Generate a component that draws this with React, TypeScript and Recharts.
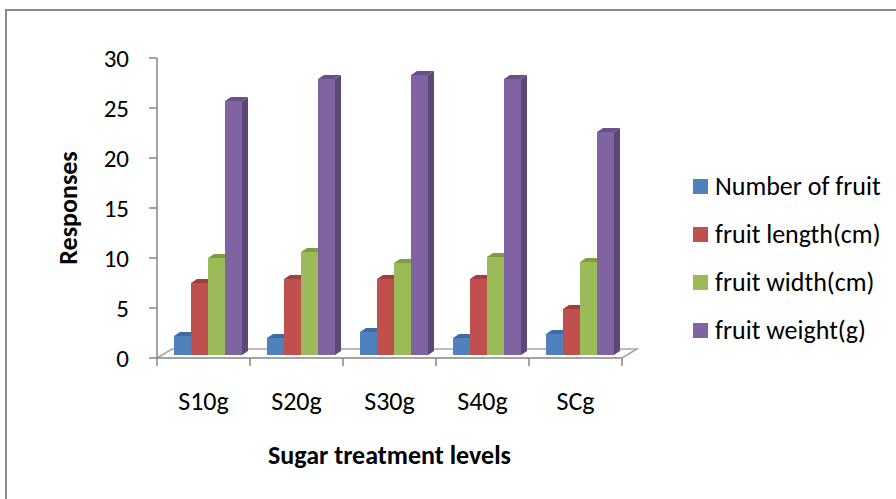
import React from 'react';
import { BarChart, Bar, XAxis, YAxis } from 'recharts';

// values
const categories = ['S10g', 'S20g', 'S30g', 'S40g', 'SCg'];
const numberOfFruit = [1.9, 1.7, 2.3, 1.7, 2.1];
const fruitLength = [7.2, 7.6, 7.6, 7.6, 4.6];
const fruitWidth = [9.7, 10.3, 9.2, 9.8, 9.3];
const fruitWeight = [25.4, 27.6, 28.0, 27.6, 22.3];
const yTicks = [0, 5, 10, 15, 20, 25, 30];

const series = [
    { key: 'number', name: 'Number of fruit', values: numberOfFruit, front: '#4F81BD', side: '#385D8A', top: '#3F6CA3' },
    { key: 'length', name: 'fruit length(cm)', values: fruitLength, front: '#C0504D', side: '#8C3836', top: '#A23E3B' },
    { key: 'width', name: 'fruit width(cm)', values: fruitWidth, front: '#9BBB59', side: '#71893F', top: '#7F9C45' },
    { key: 'weight', name: 'fruit weight(g)', values: fruitWeight, front: '#8064A2', side: '#5C4776', top: '#68518A' },
];

const data = categories.map((category, i) => {
    const row: Record<string, string | number> = { category };
    series.forEach(s => { row[s.key] = s.values[i]; });
    return row;
});

const W = 896;
const H = 499;
const MARGIN = { top: 58, right: 274, bottom: 111, left: 97 };
const Y_AXIS_W = 60;
const X_AXIS_H = 30;
const PLOT_LEFT = MARGIN.left + Y_AXIS_W;
const PLOT_RIGHT = W - MARGIN.right;
const BAND = (PLOT_RIGHT - PLOT_LEFT) / categories.length;

const FONT = 'Carlito, Calibri, Lato, sans-serif';
const AXIS = '#868686';

// fake 3d: bars sit a little back from the front edge of the floor
const DX = 4;
const DY = -3;
const DEPTH_X = 6;
const DEPTH_Y = 4;
const FLOOR_X = 15;
const FLOOR_Y = 9;

const makeShape = (s: typeof series[number], drawFloor: boolean) => (props: any) => {
    const { x, y, width, height, index } = props;
    const fx = x + DX;
    const fy = y + DY;
    const base = y + height;
    return (
        <g>
            {drawFloor && index === 0 && (
                <polyline
                    points={`${PLOT_LEFT},${base} ${PLOT_LEFT + FLOOR_X},${base - FLOOR_Y} ${PLOT_RIGHT + FLOOR_X},${base - FLOOR_Y} ${PLOT_RIGHT},${base}`}
                    fill="none" stroke="#a6a6a6" strokeWidth={1.5}
                />
            )}
            <polygon
                points={`${fx + width},${fy} ${fx + width + DEPTH_X},${fy - DEPTH_Y} ${fx + width + DEPTH_X},${fy + height - DEPTH_Y} ${fx + width},${fy + height}`}
                fill={s.side}
            />
            <polygon
                points={`${fx},${fy} ${fx + DEPTH_X},${fy - DEPTH_Y} ${fx + width + DEPTH_X},${fy - DEPTH_Y} ${fx + width},${fy}`}
                fill={s.top}
            />
            <rect x={fx} y={fy} width={width} height={height} fill={s.front} />
        </g>
    );
};

const XTick = (props: any) => {
    const { x, y, payload, index } = props;
    return (
        <g>
            <line x1={x - BAND / 2} y1={y} x2={x - BAND / 2} y2={y + 8} stroke={AXIS} strokeWidth={1.5} />
            {index === categories.length - 1 && (
                <line x1={x + BAND / 2} y1={y} x2={x + BAND / 2} y2={y + 8} stroke={AXIS} strokeWidth={1.5} />
            )}
            <text x={x} y={y + 52} textAnchor="middle" fontSize={26} fontFamily={FONT} fill="#000">
                {payload.value}
            </text>
        </g>
    );
};

const YTitle = (props: any) => {
    const { viewBox } = props;
    const cx = viewBox.x - 29;
    const cy = viewBox.y + viewBox.height / 2;
    return (
        <text x={cx} y={cy} transform={`rotate(-90 ${cx} ${cy})`} textAnchor="middle" dominantBaseline="central"
            fontSize={26} fontWeight="bold" fontFamily={FONT} fill="#000">
            Responses
        </text>
    );
};

const XTitle = (props: any) => {
    const { viewBox } = props;
    const cx = viewBox.x + viewBox.width / 2;
    return (
        <text x={cx} y={455} textAnchor="middle" dominantBaseline="central"
            fontSize={26} fontWeight="bold" fontFamily={FONT} fill="#000">
            Sugar treatment levels
        </text>
    );
};

export default function App() {
    return (
        <div style={{ position: 'absolute', left: 0, top: 0, width: W, height: H, overflow: 'hidden', background: '#fff' }}>
            <div style={{ position: 'absolute', left: 5, top: 9, width: 1000, height: 700, border: '2px solid #8a8a8a' }} />
            <div style={{ position: 'absolute', left: 0, top: 0 }}>
                <BarChart width={W} height={H} data={data} margin={MARGIN} barGap={0} barCategoryGap={0}>
                    <XAxis
                        dataKey="category"
                        height={X_AXIS_H}
                        stroke={AXIS}
                        axisLine={{ stroke: AXIS, strokeWidth: 1.5 }}
                        tickLine={false}
                        tickSize={0}
                        tickMargin={0}
                        tick={<XTick />}
                        interval={0}
                        label={<XTitle />}
                    />
                    <YAxis
                        width={Y_AXIS_W}
                        domain={[0, 30]}
                        ticks={yTicks}
                        interval={0}
                        axisLine={{ stroke: AXIS, strokeWidth: 1.5 }}
                        tickLine={{ stroke: AXIS, strokeWidth: 1.5 }}
                        tickSize={8}
                        tickMargin={20}
                        tick={{ fill: '#000', fontSize: 25, fontFamily: FONT }}
                        label={<YTitle />}
                    />
                    {series.map((s, i) => (
                        <Bar
                            key={s.key}
                            dataKey={s.key}
                            name={s.name}
                            fill={s.front}
                            barSize={17}
                            isAnimationActive={false}
                            shape={makeShape(s, i === 0)}
                        />
                    ))}
                </BarChart>
            </div>
            <div style={{ position: 'absolute', left: 693, top: 162, fontFamily: FONT, fontSize: 26, color: '#000' }}>
                {series.map(s => (
                    <div key={s.key} style={{ height: 48, display: 'flex', alignItems: 'center', whiteSpace: 'nowrap' }}>
                        <span style={{ display: 'inline-block', width: 15, height: 15, background: s.front, marginRight: 7 }} />
                        <span>{s.name}</span>
                    </div>
                ))}
            </div>
        </div>
    );
}
